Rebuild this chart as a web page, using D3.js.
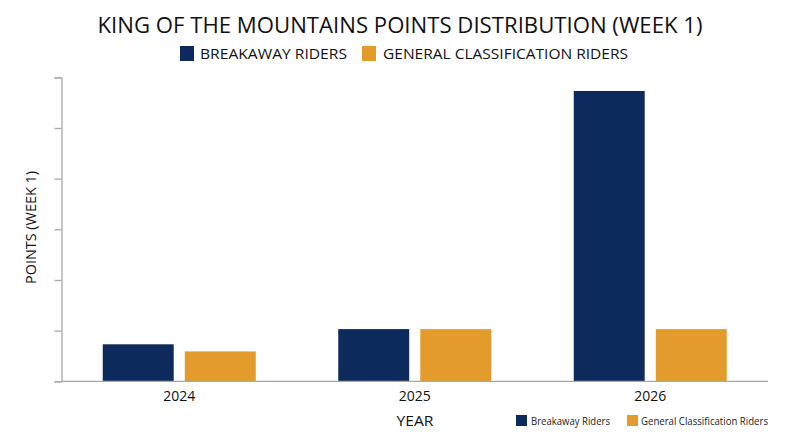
<!DOCTYPE html>
<html><head><meta charset="utf-8">
<script src="https://cdn.jsdelivr.net/npm/d3@7"></script>
<style>body{margin:0;background:#fff}svg{display:block;font-family:"Open Sans",sans-serif}</style>
</head><body><svg id="c" width="800" height="447"></svg>
<script>
const years = ["2024","2025","2026"];
const seriesNames = ["Breakaway Riders","General Classification Riders"];
const breakaway = [7.3, 10.3, 57.3];
const gcRiders = [5.9, 10.3, 10.3];
const yTicks = [0,10,20,30,40,50,60];
const colors = ["#0c2a5b","#e39c2b"];

const svg = d3.select("#c");
const m = {l:61.5, r:32};
const W = 800;
const x0 = d3.scaleBand().domain(years).range([m.l, W - m.r]);
const gw = 153;
const x1 = d3.scaleBand().domain(seriesNames)
  .range([(x0.bandwidth()-gw)/2, (x0.bandwidth()+gw)/2]).paddingInner(0.135);
const y = d3.scaleLinear().domain([0,60]).range([381.3, 77.3]);

const data = years.map((yr,i)=>({yr, vals:[breakaway[i], gcRiders[i]]}));

svg.append("g").selectAll("g").data(data).join("g")
  .attr("transform", d=>`translate(${x0(d.yr)},0)`)
  .selectAll("rect").data(d=>d.vals.map((v,j)=>({v, s:seriesNames[j], j})))
  .join("rect")
  .attr("x", d=>x1(d.s)).attr("width", x1.bandwidth())
  .attr("y", d=>y(d.v)).attr("height", d=>y(0)-y(d.v))
  .attr("fill", d=>colors[d.j]);

const yAxis = svg.append("g").attr("transform",`translate(${m.l},0)`)
  .call(d3.axisLeft(y).tickValues(yTicks).tickFormat("").tickSize(7));
yAxis.selectAll("line,path").attr("stroke","#a8a8a8").attr("stroke-width",1.3);

const xAxis = svg.append("g").attr("transform",`translate(0,${y(0)})`)
  .call(d3.axisBottom(x0).tickSize(0).tickPadding(9));
xAxis.select(".domain").attr("stroke","#a8a8a8").attr("stroke-width",1.3)
  .attr("d", `M${m.l},0H${768}`);
xAxis.selectAll("text").attr("font-size",14).attr("fill","#111")
  .attr("dy",null).attr("y",19.5).attr("font-family","'Open Sans',sans-serif");

svg.append("text").attr("x",400).attr("y",33.3).attr("text-anchor","middle")
  .attr("font-size",22.5).attr("fill","#111").attr("textLength",605).attr("lengthAdjust","spacingAndGlyphs")
  .text("KING OF THE MOUNTAINS POINTS DISTRIBUTION (WEEK 1)");

// top legend
const topLeg = [{x:180, tx:200, tw:147},{x:362, tx:383, tw:245}];
seriesNames.forEach((s,i)=>{
  svg.append("rect").attr("x",topLeg[i].x).attr("y",46).attr("width",14).attr("height",15).attr("fill",colors[i]);
  svg.append("text").attr("x",topLeg[i].tx).attr("y",59).attr("font-size",14.5).attr("fill","#111")
    .attr("textLength",topLeg[i].tw).attr("lengthAdjust","spacingAndGlyphs").text(s.toUpperCase());
});

// bottom legend
const botLeg = [{x:516, tx:531, tw:79},{x:627, tx:641, tw:127}];
seriesNames.forEach((s,i)=>{
  svg.append("rect").attr("x",botLeg[i].x).attr("y",415).attr("width",11).attr("height",11).attr("fill",colors[i]);
  svg.append("text").attr("x",botLeg[i].tx).attr("y",424.5).attr("font-size",10).attr("fill","#222")
    .attr("textLength",botLeg[i].tw).attr("lengthAdjust","spacingAndGlyphs").text(s);
});

svg.append("text").attr("x",415).attr("y",426).attr("text-anchor","middle")
  .attr("font-size",14).attr("fill","#111").attr("textLength",37).attr("lengthAdjust","spacingAndGlyphs").text("YEAR");

svg.append("text").attr("transform","translate(36,227.5) rotate(-90)").attr("text-anchor","middle")
  .attr("font-size",14).attr("fill","#111").attr("textLength",113).attr("lengthAdjust","spacingAndGlyphs")
  .text("POINTS (WEEK 1)");
</script></body></html>
